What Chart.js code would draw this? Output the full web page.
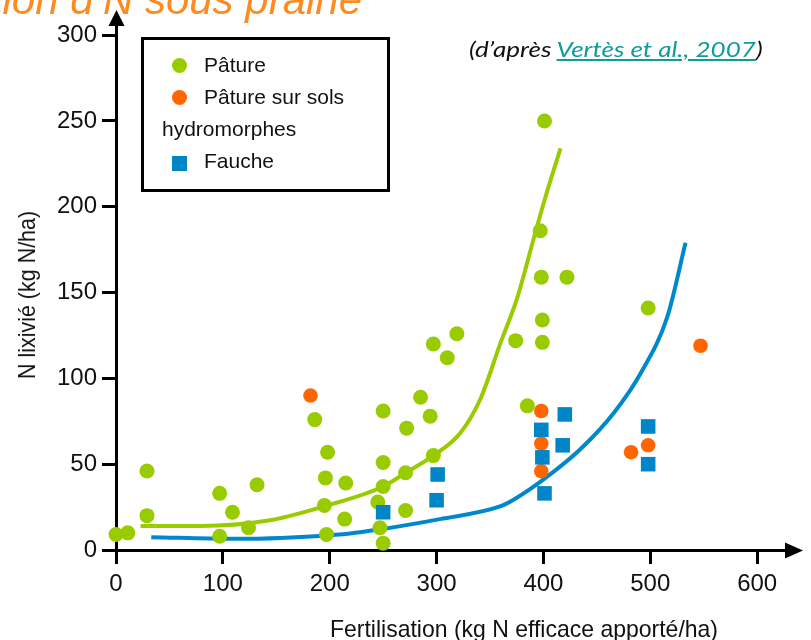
<!DOCTYPE html>
<html lang="fr">
<head>
<meta charset="utf-8">
<title>N lixivié selon la fertilisation</title>
<script src="https://cdn.jsdelivr.net/npm/chart.js@4.4.1/dist/chart.umd.min.js"></script>
<style>
    body { margin: 0; background: #fff; }
    #wrap { position: relative; width: 811px; height: 640px; overflow: hidden; font-family: 'Liberation Sans', Arial, sans-serif; color: #111; }
    #chart { position: absolute; left: 0; top: 0; }
    .txt { position: absolute; white-space: nowrap; }
    #titre { right: 449px; top: -20px; font-size: 42px; line-height: 40px; font-style: italic; color: #ff8a1f; }
    #source { left: 469px; top: 37px; font-family: Lato, 'Open Sans', sans-serif; font-style: italic; font-size: 21px; line-height: 24px; transform-origin: 0 50%; }
    #source a { color: #119c9c; text-decoration: underline; }
    #legende { position: absolute; left: 141px; top: 37px; width: 249px; height: 155px; border: 3px solid #000; box-sizing: border-box; }
    .leg { font-size: 21px; line-height: 24px; }
    .mk { position: absolute; }
    #titreX { left: 524px; top: 615px; font-size: 24px; line-height: 28px; }
    #titreY { left: 27px; top: 295px; font-size: 24px; line-height: 28px; }
</style>
</head>
<body>
<div id="wrap">
    <canvas id="chart" width="811" height="640"></canvas>
    <div class="txt" id="titre">Lixiviation d’N sous prairie</div>
    <div class="txt" id="source">(d’après <a>Vertès et al., 2007</a>)</div>
    <div id="legende"></div>
    <div class="mk" style="left:172px;top:58px;width:15px;height:15px;border-radius:50%;background:#99cc00"></div>
    <div class="txt leg" style="left:204px;top:53px">Pâture</div>
    <div class="mk" style="left:172px;top:90px;width:15px;height:15px;border-radius:50%;background:#ff6600"></div>
    <div class="txt leg" style="left:204px;top:85px">Pâture sur sols</div>
    <div class="txt leg" style="left:162px;top:117px">hydromorphes</div>
    <div class="mk" style="left:172px;top:156px;width:15px;height:15px;background:#0085c8"></div>
    <div class="txt leg" style="left:204px;top:149px">Fauche</div>
    <div class="txt" id="titreX">Fertilisation (kg N efficace apporté/ha)</div>
    <div class="txt" id="titreY">N lixivié (kg N/ha)</div>
</div>
<script>
const xTicks = [0, 100, 200, 300, 400, 500, 600];
const yTicks = [0, 50, 100, 150, 200, 250, 300];

// Pâture
const patureX = [0, 11, 29, 29, 97, 97, 109, 124, 132, 186, 198, 196, 215, 195, 214, 197, 250, 250, 250, 245, 247, 250, 272, 271, 271, 285, 294, 297, 297, 310, 319, 374, 385, 397, 398, 422, 399, 399, 401, 498];
const patureY = [9, 10, 46, 20, 33, 8, 22, 13, 38, 76, 57, 42, 39, 26, 18, 9, 81, 51, 37, 28, 13, 4, 71, 45, 23, 89, 78, 55, 120, 112, 126, 122, 84, 186, 159, 159, 134, 121, 250, 141];

// Pâture sur sols hydromorphes
const hydroX = [182, 398, 398, 398, 482, 498, 547];
const hydroY = [90, 81, 62, 46, 57, 61, 119];

// Fauche
const faucheX = [250, 301, 300, 398, 420, 399, 418, 401, 498, 498];
const faucheY = [22, 44, 29, 70, 79, 54, 61, 33, 72, 50];

// courbes d'ajustement
const courbePatureX = [23, 79, 141, 195, 250, 271, 297, 322, 341, 360, 375, 392, 403, 416];
const courbePatureY = [14, 14, 17, 25.5, 37, 45, 55, 68, 88, 121, 146, 184, 208, 234];
const courbeFaucheX = [33, 110, 154, 219, 247, 303, 360, 374, 402, 435, 466, 491, 516, 533];
const courbeFaucheY = [7.5, 6.5, 7, 9.6, 12, 18, 25.5, 30, 42, 59, 80, 103, 136, 179];

function pts(xs, ys) {
    return xs.map((x, i) => ({ x: x, y: ys[i] }));
}

const tickFont = { family: "'Liberation Sans', Arial, sans-serif", size: 24 };

// flèches au bout des axes
const axisArrows = {
    id: 'axisArrows',
    afterDraw(chart) {
        const { ctx, chartArea, scales } = chart;
        const x0 = scales.x.getPixelForValue(0) + 0.5;
        const y0 = scales.y.getPixelForValue(0) + 0.5;
        ctx.save();
        ctx.fillStyle = '#000';
        ctx.beginPath();
        ctx.moveTo(x0, chartArea.top - 14);
        ctx.lineTo(x0 - 8, chartArea.top + 2);
        ctx.lineTo(x0 + 8, chartArea.top + 2);
        ctx.closePath();
        ctx.fill();
        ctx.beginPath();
        ctx.moveTo(chartArea.right + 17, y0);
        ctx.lineTo(chartArea.right - 1, y0 - 8);
        ctx.lineTo(chartArea.right - 1, y0 + 8);
        ctx.closePath();
        ctx.fill();
        ctx.restore();
    }
};

const ctx = document.getElementById('chart').getContext('2d');
new Chart(ctx, {
    type: 'scatter',
    data: {
        datasets: [
            { label: 'Fauche', data: pts(faucheX, faucheY), backgroundColor: '#0085c8', pointStyle: 'rect', pointRadius: 10.3, borderWidth: 0, clip: false },
            { label: 'Pâture sur sols hydromorphes', data: pts(hydroX, hydroY), backgroundColor: '#ff6600', pointRadius: 7.3, borderWidth: 0, clip: false },
            { label: 'Pâture', data: pts(patureX, patureY), backgroundColor: '#99cc00', pointRadius: 7.5, borderWidth: 0, clip: false },
            { type: 'line', label: 'Courbe pâture', data: pts(courbePatureX, courbePatureY), borderColor: '#99cc00', borderWidth: 4, pointRadius: 0, cubicInterpolationMode: 'monotone', fill: false },
            { type: 'line', label: 'Courbe fauche', data: pts(courbeFaucheX, courbeFaucheY), borderColor: '#0088cc', borderWidth: 4, pointRadius: 0, cubicInterpolationMode: 'monotone', fill: false }
        ]
    },
    options: {
        responsive: false,
        animation: false,
        layout: { padding: { left: 0, top: 24, right: 25, bottom: 0 } },
        plugins: { legend: { display: false }, tooltip: { enabled: false } },
        scales: {
            x: {
                type: 'linear',
                min: 0,
                max: 627,
                afterBuildTicks: s => { s.ticks = xTicks.map(v => ({ value: v })); },
                afterFit: s => { s.height = 90; },
                grid: { drawOnChartArea: false, drawTicks: true, tickLength: 14, tickWidth: 3, tickColor: '#000' },
                border: { display: true, color: '#000', width: 3 },
                ticks: { color: '#111', font: tickFont, padding: 6, maxRotation: 0 }
            },
            y: {
                type: 'linear',
                min: 0,
                max: 306.5,
                afterBuildTicks: s => { s.ticks = yTicks.map(v => ({ value: v })); },
                afterFit: s => { s.width = 116; },
                grid: { drawOnChartArea: false, drawTicks: true, tickLength: 14, tickWidth: 3, tickColor: '#000' },
                border: { display: true, color: '#000', width: 3 },
                ticks: { color: '#111', font: tickFont, padding: 5 }
            }
        }
    },
    plugins: [axisArrows]
});

// ajuste la largeur des textes à celle de la référence
function fitWidth(id, target, pre) {
    const el = document.getElementById(id);
    const k = target / el.offsetWidth;
    el.style.transform = pre + ' scaleX(' + k.toFixed(3) + ')';
}
fitWidth('source', 294, '');
fitWidth('titreX', 388, 'translateX(-50%)');
fitWidth('titreY', 168, 'translate(-50%, -50%) rotate(-90deg)');
</script>
</body>
</html>
